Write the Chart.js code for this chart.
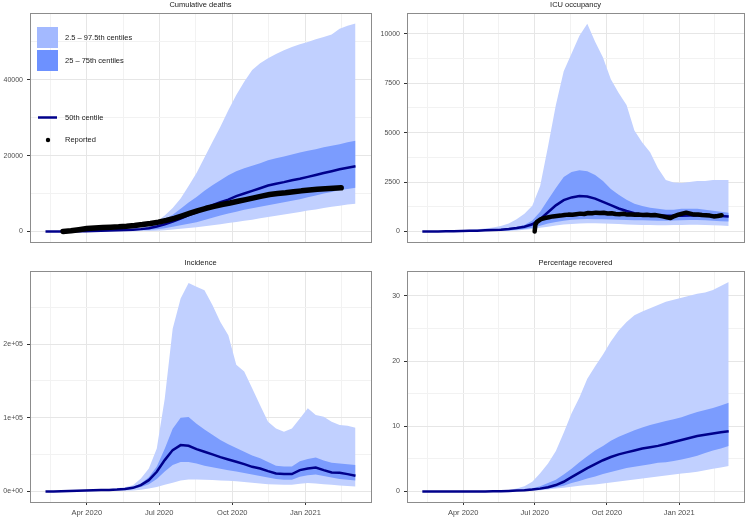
<!DOCTYPE html>
<html>
<head>
<meta charset="utf-8">
<script src="https://cdn.jsdelivr.net/npm/chart.js@4.4.0/dist/chart.umd.min.js"></script>
<style>
  body { margin: 0; background: #fff; }
  canvas { position: absolute; }
</style>
</head>
<body>
<canvas id="deaths" width="375" height="250" style="left:0;top:0"></canvas>
<canvas id="icu" width="375" height="250" style="left:375px;top:0"></canvas>
<canvas id="incidence" width="375" height="262" style="left:0;top:255px"></canvas>
<canvas id="recovered" width="375" height="262" style="left:375px;top:255px"></canvas>
<script>
// days since 2020-01-01
const days = [39,49,59,69,79,89,99,109,119,129,139,149,159,169,179,189,199,209,219,229,239,249,259,269,279,289,299,309,319,329,339,349,359,369,379,389,399,409,419,429]

const deathsLo95 = [0,0,0,0,0,2,6,12,20,35,50,70,95,120,150,300,500,700,900,1070,1350,1650,1900,2200,2500,2800,3100,3450,3800,4100,4450,4800,5150,5500,5800,6200,6500,6800,7100,7300]
const deathsLo50 = [0,0,0,0,5,15,30,55,90,130,190,260,350,450,550,800,1200,1600,2000,2400,3000,3600,4200,4700,5200,5700,6100,6500,6900,7300,7700,8100,8500,9000,9500,10000,10400,10900,11200,11500]
const deathsMed = [0,0,5,15,35,60,100,150,210,280,360,460,600,830,1300,1900,2600,3400,4300,5050,6000,6900,7700,8400,9300,10000,10700,11400,12100,12600,13000,13500,13900,14400,14900,15400,15900,16400,16800,17170]
const deathsHi50 = [0,0,0,8,20,50,90,150,230,330,450,600,800,1100,1900,3200,4400,6000,7600,9100,10700,12200,13500,14800,15900,16700,17300,18000,18800,19300,19800,20300,20800,21300,21700,22200,22600,23000,23500,23900]
const deathsHi95 = [0,0,0,10,30,70,130,220,340,480,650,850,1100,1480,2600,4200,6200,8700,12000,15400,19500,23600,27600,32000,36000,39500,42600,44400,45700,46800,47800,48700,49400,50000,50700,51300,52000,53500,54300,54900]
const reportedDeathDays = [61,71,81,91,101,111,121,131,141,151,161,171,181,191,201,211,221,231,241,251,261,271,281,291,301,311,321,331,341,351,361,371,381,391,401,411]
const reportedDeaths = [0,150,450,750,900,1000,1100,1200,1350,1550,1800,2100,2450,2900,3450,4100,4800,5500,6100,6600,7100,7500,7950,8400,8850,9300,9750,10000,10200,10450,10700,10900,11100,11250,11400,11500]

const icuLo95 = [0,0,0,0,2,4,6,10,15,20,25,35,50,80,120,180,240,300,350,380,400,410,410,400,390,370,350,340,330,320,310,310,320,330,340,340,330,310,300,280]
const icuLo50 = [0,0,0,2,5,8,12,18,25,33,42,50,80,120,190,290,400,480,540,590,620,630,620,610,600,590,580,570,560,550,540,540,550,560,580,580,560,540,520,500]
const icuMed = [0,0,2,5,10,18,28,40,55,70,90,120,170,240,360,620,970,1320,1580,1720,1790,1770,1660,1490,1330,1160,1030,920,860,830,810,790,790,790,800,800,800,790,780,760]
const icuHi50 = [0,0,5,10,20,30,45,60,80,100,130,170,230,330,550,1000,1600,2200,2750,3000,3100,3050,2850,2550,2150,1850,1600,1400,1280,1200,1150,1100,1100,1150,1150,1150,1100,1050,1000,950]
const icuHi95 = [0,5,10,20,35,55,80,110,150,200,270,400,620,900,1300,2300,4300,6400,8100,9000,9900,10500,9600,8800,7700,7000,6400,5100,4500,4000,3200,2600,2480,2450,2500,2550,2550,2600,2600,2600]
const icuReportedDays = [182,183,185,190,195,200,205,210,215,220,225,230,235,240,245,250,255,260,265,270,275,280,285,290,295,300,305,310,315,320,325,330,335,340,345,350,355,360,365,370,375,380,385,390,395,400,405,410,415,420]
const icuReported = [0,350,480,620,680,720,760,780,800,830,850,840,870,900,880,930,920,950,930,940,910,920,880,870,890,850,860,840,850,830,840,820,830,800,760,720,680,780,850,900,950,900,850,860,830,820,800,760,780,820]

const incLo95 = [0,50,100,200,300,400,500,600,700,800,1000,1500,2500,4000,6000,9000,12000,15000,16300,16300,16000,15500,15000,14500,14000,13000,12000,11000,10000,9500,9000,9000,10500,11500,11000,10000,9000,8000,7500,6800]
const incLo50 = [0,80,200,450,800,1000,1300,1500,1700,1900,2000,3500,6000,10000,17000,27000,36000,40000,40000,38000,35000,33000,31000,29000,27000,25000,23000,21000,19000,17000,16000,16000,20000,22000,23000,21000,19000,17000,16000,15000]
const incMed = [0,100,300,600,1000,1300,1600,1900,2100,2600,3400,5000,8600,15400,26700,42600,56200,63000,62000,57500,53900,50300,46600,43500,40300,37100,33500,31200,27600,24500,23600,23600,29000,31200,32600,29000,25800,25400,23600,21300]
const incHi50 = [0,150,400,800,1200,1600,2000,2400,2800,3400,4300,6500,11000,19500,34000,58000,85000,100000,101000,92000,84000,77000,70000,64000,59000,54000,49000,45000,40000,35000,34000,34000,41000,44000,46000,42000,39000,38000,37000,36000]
const incHi95 = [0,200,500,1000,1500,2000,2500,3000,3500,4300,5800,8600,17700,31200,58400,126000,221000,262000,283000,278000,273000,253000,230000,212000,172000,163000,140000,117000,94700,85600,81000,85600,99200,113000,103700,101500,94700,90100,89200,86500]

const recLo95 = [0,0,0,0,0,0,0,0,0,0.01,0.02,0.03,0.05,0.08,0.12,0.2,0.3,0.45,0.6,0.75,0.9,1.0,1.1,1.25,1.4,1.55,1.7,1.85,2.0,2.15,2.3,2.45,2.6,2.75,2.9,3.05,3.25,3.5,3.7,3.9]
const recLo50 = [0,0,0,0,0,0,0,0,0.01,0.02,0.04,0.06,0.1,0.15,0.22,0.32,0.45,0.65,0.9,1.3,1.6,2.0,2.3,2.7,3.0,3.3,3.6,3.8,4.0,4.2,4.4,4.5,4.7,4.9,5.2,5.5,5.9,6.3,6.6,7.0]
const recMed = [0,0,0,0,0,0,0,0.01,0.02,0.04,0.06,0.1,0.15,0.2,0.3,0.45,0.65,1.0,1.5,2.2,2.9,3.6,4.2,4.8,5.3,5.7,6.0,6.3,6.6,6.8,7.0,7.3,7.6,7.9,8.2,8.5,8.7,8.9,9.1,9.25]
const recHi50 = [0,0,0,0,0,0,0.01,0.02,0.04,0.06,0.1,0.15,0.25,0.35,0.5,0.8,1.3,1.8,2.6,3.5,4.5,5.4,6.3,7.0,7.8,8.4,8.9,9.4,9.8,10.2,10.5,10.8,11.1,11.4,11.8,12.2,12.5,12.8,13.2,13.6]
const recHi95 = [0,0,0,0,0,0.01,0.02,0.04,0.06,0.1,0.15,0.25,0.45,0.8,1.5,2.8,4.3,6.2,9.0,12.0,14.4,17.3,19.2,21.0,23.0,24.7,26.0,27.0,27.6,28.1,28.6,29.1,29.4,29.7,30.0,30.3,30.5,30.9,31.5,32.1]

const xTicks = [45.5, 91, 136.5, 182, 228, 274, 320, 366, 411]
const xLabels = { 91: 'Apr 2020', 182: 'Jul 2020', 274: 'Oct 2020', 366: 'Jan 2021' }

const LIGHT = '#c1d0ff'
const DARK = '#7b9cfe'
const NAVY = '#00008b'
const FONT = "'Liberation Sans', Arial, sans-serif"

const zip = (xs, ys) => xs.map((x, i) => ({ x: x, y: ys[i] }))

const frame = {
  id: 'frame',
  afterDraw: (chart, args, opts) => {
    let a = chart.chartArea
    let ctx = chart.ctx
    ctx.save()
    ctx.strokeStyle = '#8c8c8c'
    ctx.lineWidth = 1
    ctx.strokeRect(Math.round(a.left) + 0.5, Math.round(a.top) + 0.5, Math.round(a.right - a.left), Math.round(a.bottom - a.top))
    ctx.fillStyle = '#1a1a1a'
    ctx.font = '7.5px ' + FONT
    ctx.textAlign = 'center'
    ctx.textBaseline = 'middle'
    ctx.fillText(opts.title, (a.left + a.right) / 2, a.top - 8)
    ctx.restore()
  }
}

const legend = {
  id: 'keys',
  afterDraw: chart => {
    let ctx = chart.ctx
    ctx.save()
    ctx.fillStyle = '#a3b9ff'
    ctx.fillRect(37, 27, 21, 21)
    ctx.fillStyle = '#6d91ff'
    ctx.fillRect(37, 50, 21, 21)
    ctx.strokeStyle = NAVY
    ctx.lineWidth = 2.5
    ctx.beginPath()
    ctx.moveTo(38, 117.5)
    ctx.lineTo(57, 117.5)
    ctx.stroke()
    ctx.fillStyle = '#000'
    ctx.beginPath()
    ctx.arc(48, 140, 2.2, 0, Math.PI * 2)
    ctx.fill()
    ctx.fillStyle = '#1a1a1a'
    ctx.font = '7.5px ' + FONT
    ctx.textBaseline = 'middle'
    ctx.fillText('2.5 \u2013 97.5th centiles', 65, 37.5)
    ctx.fillText('25 \u2013 75th centiles', 65, 60.5)
    ctx.fillText('50th centile', 65, 118)
    ctx.fillText('Reported', 65, 140)
    ctx.restore()
  }
}

const makePanel = (id, p) => {
  let ribbons = [
    { data: zip(days, p.hi95), backgroundColor: LIGHT, fill: 1, order: 4 },
    { data: zip(days, p.lo95), fill: false, order: 5 },
    { data: zip(days, p.hi50), backgroundColor: DARK, fill: 3, order: 2 },
    { data: zip(days, p.lo50), fill: false, order: 3 },
    { data: zip(days, p.med), borderColor: NAVY, borderWidth: 2.5, fill: false, order: 1 },
  ]
  ribbons.slice(0, 4).forEach(d => { d.borderWidth = 0; d.borderColor = 'rgba(0,0,0,0)' })
  if (p.reported) {
    ribbons.push({
      data: zip(p.reportedDays, p.reported), borderColor: '#000', borderWidth: p.reportedWidth,
      fill: false, order: 0, borderCapStyle: 'round', borderJoinStyle: 'round'
    })
  }
  let yMajor = v => Math.abs(v / p.yStep - Math.round(v / p.yStep)) < 1e-9
  return new Chart(document.getElementById(id), {
    type: 'line',
    data: { datasets: ribbons },
    options: {
      responsive: false,
      animation: false,
      events: [],
      elements: { point: { radius: 0 }, line: { tension: 0 } },
      layout: { padding: p.padding },
      plugins: {
        legend: { display: false },
        tooltip: { enabled: false },
        frame: { title: p.title }
      },
      scales: {
        x: {
          type: 'linear',
          min: 19.5,
          max: 448.5,
          border: { display: false },
          afterBuildTicks: s => { s.ticks = xTicks.map(v => ({ value: v })) },
          afterFit: s => { s.height = p.bottom ? 15 : 0 },
          grid: {
            color: c => xLabels[c.tick.value] ? '#e6e6e6' : '#f2f2f2',
            tickColor: c => xLabels[c.tick.value] ? '#333' : 'rgba(0,0,0,0)',
            drawTicks: p.bottom,
            tickLength: 3
          },
          ticks: {
            display: p.bottom,
            autoSkip: false,
            maxRotation: 0,
            padding: 3,
            color: '#4d4d4d',
            font: { size: 7.5, family: FONT },
            callback: v => xLabels[v] || ''
          }
        },
        y: {
          type: 'linear',
          min: p.yMin,
          max: p.yMax,
          border: { display: false },
          afterBuildTicks: s => { s.ticks = p.yTicks.map(v => ({ value: v })) },
          afterFit: s => { s.width = p.yWidth },
          grid: {
            color: c => yMajor(c.tick.value) ? '#e6e6e6' : '#f2f2f2',
            tickColor: c => yMajor(c.tick.value) ? '#333' : 'rgba(0,0,0,0)',
            tickLength: 3
          },
          ticks: {
            autoSkip: false,
            padding: 4,
            color: '#4d4d4d',
            font: { size: 7, family: FONT },
            callback: v => yMajor(v) ? p.fmt(v) : ''
          }
        }
      }
    },
    plugins: p.extra ? [frame, p.extra] : [frame]
  })
}

makePanel('deaths', {
  title: 'Cumulative deaths', lo95: deathsLo95, lo50: deathsLo50, med: deathsMed, hi50: deathsHi50, hi95: deathsHi95,
  reportedDays: reportedDeathDays, reported: reportedDeaths, reportedWidth: 5.5,
  yMin: -2745, yMax: 57645, yStep: 20000, yTicks: [0, 10000, 20000, 30000, 40000, 50000],
  fmt: v => String(v), yWidth: 30, padding: { top: 13, right: 4, bottom: 5, left: 0 }, bottom: false, extra: legend
})

makePanel('icu', {
  title: 'ICU occupancy', lo95: icuLo95, lo50: icuLo50, med: icuMed, hi50: icuHi50, hi95: icuHi95,
  reportedDays: icuReportedDays, reported: icuReported, reportedWidth: 4.5,
  yMin: -525, yMax: 11050, yStep: 2500, yTicks: [0, 1250, 2500, 3750, 5000, 6250, 7500, 8750, 10000],
  fmt: v => String(v), yWidth: 32, padding: { top: 13, right: 6, bottom: 5, left: 0 }, bottom: false
})

makePanel('incidence', {
  title: 'Incidence', lo95: incLo95, lo50: incLo50, med: incMed, hi50: incHi50, hi95: incHi95,
  yMin: -14250, yMax: 299250, yStep: 100000, yTicks: [0, 50000, 100000, 150000, 200000, 250000],
  fmt: v => v === 0 ? '0e+00' : (v / 100000) + 'e+05', yWidth: 30, padding: { top: 16, right: 4, bottom: 0, left: 0 }, bottom: true
})

makePanel('recovered', {
  title: 'Percentage recovered', lo95: recLo95, lo50: recLo50, med: recMed, hi50: recHi50, hi95: recHi95,
  yMin: -1.6, yMax: 33.8, yStep: 10, yTicks: [0, 5, 10, 15, 20, 25, 30],
  fmt: v => String(v), yWidth: 32, padding: { top: 16, right: 6, bottom: 0, left: 0 }, bottom: true
})
</script>
</body>
</html>
